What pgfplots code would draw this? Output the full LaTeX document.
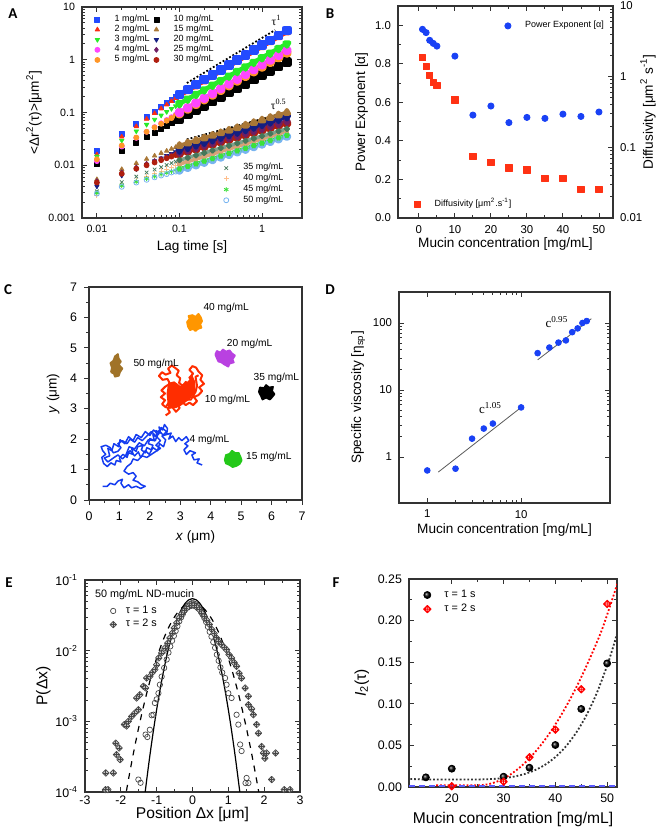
\documentclass[border=0pt]{standalone}
\usepackage{fontspec}
\setmainfont{Liberation Sans}
\newfontfamily\serif{Liberation Serif}
\newfontfamily\lblfont{Carlito}
\usepackage{pgfplots}
\usepackage{pgfplotstable}
\pgfplotsset{compat=1.18}

\definecolor{cA1}{RGB}{35,75,255}
\definecolor{cA2}{RGB}{250,45,20}
\definecolor{cA3}{RGB}{40,235,40}
\definecolor{cA4}{RGB}{255,70,255}
\definecolor{cA5}{RGB}{255,150,40}
\definecolor{cA10}{RGB}{0,0,0}
\definecolor{cA15}{RGB}{170,120,55}
\definecolor{cA20}{RGB}{20,30,130}
\definecolor{cA25}{RGB}{110,30,100}
\definecolor{cA30}{RGB}{175,30,15}
\definecolor{cA35}{RGB}{70,120,90}
\definecolor{cA40}{RGB}{255,190,140}
\definecolor{cA45}{RGB}{60,225,60}
\definecolor{cA50}{RGB}{120,180,240}
\definecolor{pblue}{RGB}{25,65,245}
\definecolor{pred}{RGB}{255,50,20}
\definecolor{tOrange}{RGB}{255,150,0}
\definecolor{tPurple}{RGB}{185,65,225}
\definecolor{tBrown}{RGB}{160,115,40}
\definecolor{tRed}{RGB}{255,45,0}
\definecolor{tBlue}{RGB}{20,60,240}
\definecolor{tGreen}{RGB}{35,200,25}

\newcommand{\fG}{\fontsize{4.5}{5}\selectfont}
\newcommand{\fGb}{\fontsize{5.4}{6}\selectfont}
\newcommand{\fTa}{\fontsize{5.3}{6}\selectfont}
\newcommand{\fTb}{\fontsize{5.7}{7}\selectfont}
\newcommand{\fTc}{\fontsize{6.2}{7}\selectfont}
\newcommand{\fLa}{\fontsize{6.8}{8}\selectfont}
\newcommand{\fLb}{\fontsize{7.8}{9}\selectfont}

% crossed diamond marks for panels E and F
\pgfdeclareplotmark{cdiam}{%
  \pgfpathmoveto{\pgfqpoint{\pgfplotmarksize}{0pt}}%
  \pgfpathlineto{\pgfqpoint{0pt}{\pgfplotmarksize}}%
  \pgfpathlineto{\pgfqpoint{-\pgfplotmarksize}{0pt}}%
  \pgfpathlineto{\pgfqpoint{0pt}{-\pgfplotmarksize}}%
  \pgfpathclose
  \pgfusepathqfillstroke
  \pgfpathmoveto{\pgfqpoint{0.75\pgfplotmarksize}{0pt}}%
  \pgfpathlineto{\pgfqpoint{-0.75\pgfplotmarksize}{0pt}}%
  \pgfpathmoveto{\pgfqpoint{0pt}{0.75\pgfplotmarksize}}%
  \pgfpathlineto{\pgfqpoint{0pt}{-0.75\pgfplotmarksize}}%
  \pgfusepathqstroke
}
\pgfdeclareplotmark{rdiam}{%
  \pgfpathmoveto{\pgfqpoint{\pgfplotmarksize}{0pt}}%
  \pgfpathlineto{\pgfqpoint{0pt}{\pgfplotmarksize}}%
  \pgfpathlineto{\pgfqpoint{-\pgfplotmarksize}{0pt}}%
  \pgfpathlineto{\pgfqpoint{0pt}{-\pgfplotmarksize}}%
  \pgfpathclose
  \pgfpathcircle{\pgfpointorigin}{0.62\pgfplotmarksize}%
  \pgfpathmoveto{\pgfqpoint{\pgfplotmarksize}{0pt}}%
  \pgfpathlineto{\pgfqpoint{-\pgfplotmarksize}{0pt}}%
  \pgfpathmoveto{\pgfqpoint{0pt}{\pgfplotmarksize}}%
  \pgfpathlineto{\pgfqpoint{0pt}{-\pgfplotmarksize}}%
  \pgfusepathqstroke
}

\pgfplotsset{
  every axis/.append style={scale only axis, anchor=north west,
    /pgf/number format/assume math mode=true,
    tick align=inside, major tick length=2.4pt, minor tick length=1.4pt,
    axis line style={line width=0.55pt, black!80},
    every tick/.style={line width=0.45pt, black!80}},
  every axis plot/.append style={line join=round},
}
% legend image: one mark near the left edge, then a blank gap before the text
\newcommand{\lgimg}[1]{\pgfplotsset{legend image code/.code={%
      \draw[##1] plot coordinates {(0.1cm,0cm)};
      \pgfpathmoveto{\pgfqpoint{0cm}{0pt}}\pgfpathmoveto{\pgfqpoint{#1}{0pt}}\pgfusepath{}}}}

\begin{document}

\pgfplotstableread{
t    a1     a2     a3     a4     a5     a10    a15    a20    a25    a30    a35    a40    a45    a50
0.01 0.0186 0.0160 0.0148 0.0120 0.0130 0.0104 0.0054 0.0040 0.0050 0.0047 0.0032 0.0027 0.0030 0.0029
0.02 0.0391 0.0347 0.0295 0.0227 0.0237 0.0189 0.0084 0.0064 0.0073 0.0069 0.0048 0.0041 0.0041 0.0039
0.03 0.0605 0.0546 0.0442 0.0330 0.0336 0.0269 0.0109 0.0085 0.0091 0.0086 0.0061 0.0052 0.0049 0.0047
0.04 0.0823 0.0753 0.0590 0.0430 0.0431 0.0344 0.0131 0.0103 0.0106 0.0100 0.0073 0.0061 0.0056 0.0053
0.05 0.1046 0.0967 0.0737 0.0528 0.0522 0.0418 0.0151 0.0120 0.0120 0.0113 0.0083 0.0070 0.0062 0.0059
0.06 0.1272 0.1186 0.0883 0.0625 0.0611 0.0489 0.0170 0.0136 0.0133 0.0125 0.0092 0.0078 0.0068 0.0064
0.07 0.1500 0.1408 0.1030 0.0720 0.0698 0.0558 0.0187 0.0151 0.0144 0.0136 0.0101 0.0085 0.0072 0.0068
0.08 0.1730 0.1635 0.1177 0.0814 0.0783 0.0627 0.0204 0.0165 0.0155 0.0146 0.0110 0.0092 0.0077 0.0073
0.09 0.1966 0.1865 0.1322 0.0907 0.0867 0.0694 0.0220 0.0179 0.0165 0.0156 0.0117 0.0099 0.0081 0.0076
0.10 0.2200 0.2100 0.1470 0.1000 0.0950 0.0760 0.0235 0.0192 0.0175 0.0165 0.0125 0.0105 0.0085 0.0080
}\Aearly

\pgfplotstableread{
t      a1     a2     a3     a4     a5     a10    a15     a20     a25     a30     a35     a40     a45     a50
0.1    0.220  0.210  0.147  0.100  0.095  0.076  0.0235  0.0192  0.0175  0.0165  0.0125  0.0105  0.0085  0.0080
0.1259 0.2727 0.260  0.1796 0.1231 0.1165 0.0919 0.02627 0.02147 0.01942 0.01827 0.01388 0.01172 0.00952 0.00896
0.1585 0.338  0.322  0.2196 0.1516 0.1428 0.1111 0.02937 0.0240  0.02156 0.02022 0.01542 0.01309 0.01066 0.01004
0.1995 0.419  0.399  0.2684 0.1867 0.1752 0.1343 0.03282 0.02684 0.02392 0.02239 0.01713 0.01461 0.01193 0.01124
0.2512 0.5195 0.494  0.3281 0.2299 0.2149 0.1624 0.03668 0.03001 0.02655 0.02479 0.01903 0.01632 0.01336 0.0126
0.3162 0.644  0.612  0.4009 0.2831 0.2634 0.1965 0.04101 0.03355 0.02947 0.02744 0.02113 0.01821 0.01496 0.0141
0.3981 0.798  0.758  0.490  0.3486 0.3231 0.2376 0.04583 0.03752 0.03272 0.03039 0.02347 0.02033 0.01675 0.0158
0.5012 0.990  0.939  0.5988 0.4293 0.3962 0.2873 0.05124 0.04195 0.03632 0.03364 0.02607 0.0227  0.01875 0.0177
0.631  1.227  1.164  0.732  0.5286 0.4858 0.3474 0.05727 0.04688 0.04031 0.03724 0.02896 0.02533 0.0210  0.01982
0.7943 1.521  1.441  0.8946 0.651  0.5958 0.4201 0.06401 0.05242 0.04474 0.04123 0.03217 0.02829 0.02351 0.0222
1.0    1.886  1.785  1.093  0.8017 0.7307 0.508  0.07155 0.05861 0.04966 0.04565 0.03572 0.03158 0.02633 0.02488
1.259  2.337  2.212  1.336  0.9872 0.896  0.6143 0.07996 0.06553 0.05511 0.05054 0.03968 0.03526 0.02948 0.02786
1.585  2.897  2.740  1.633  1.216  1.099  0.7428 0.08937 0.07325 0.06117 0.05595 0.04407 0.03937 0.03301 0.0312
2.0    3.60   3.40   2.00   1.50   1.35   0.90   0.100   0.082   0.068   0.062   0.049   0.044   0.037   0.035
}\Alate

\begin{tikzpicture}
\useasboundingbox (0,0) rectangle (330pt,-416pt);

% ---------------- A: MSD curves ----------------
\begin{axis}[at={(41pt,-3.5pt)}, width=110pt, height=105.5pt,
  xmode=log, ymode=log, xmin=0.0066, xmax=3.05, ymin=0.001, ymax=10,
  xtick={0.01,0.1,1}, xticklabels={0.01,0.1,1},
  ytick={0.001,0.01,0.1,1,10}, yticklabels={0.001,0.01,0.1,1,10},
  tick label style={font=\fTa}, label style={font=\fLa}, mark size=1.25pt,
  xlabel={Lag time [s]}, xlabel style={yshift=3pt},
  ylabel={<Δr\textsuperscript{2}(τ)>[μm\textsuperscript{2}]}, ylabel style={yshift=-3.5pt},
  legend style={draw=none, fill=none, font=\fG, at={(0.015,0.99)}, anchor=north west,
    row sep=-0.9pt, nodes={inner sep=0.6pt}},
  legend columns=2]
\lgimg{0.38cm}
\addplot[only marks, mark=square*, cA1] table[x=t,y=a1]{\Aearly};
\addlegendentry{1 mg/mL}
\addplot[only marks, mark=square*, cA10] table[x=t,y=a10]{\Aearly};
\addlegendentry{10 mg/mL}
\addplot[only marks, mark=triangle*, cA2] table[x=t,y=a2]{\Aearly};
\addlegendentry{2 mg/mL}
\addplot[only marks, mark=triangle*, cA15] table[x=t,y=a15]{\Aearly};
\addlegendentry{15 mg/mL}
\addplot[only marks, mark=triangle*, mark options={rotate=180}, cA3] table[x=t,y=a3]{\Aearly};
\addlegendentry{3 mg/mL}
\addplot[only marks, mark=triangle*, mark options={rotate=180}, cA20] table[x=t,y=a20]{\Aearly};
\addlegendentry{20 mg/mL}
\addplot[only marks, mark=*, cA4] table[x=t,y=a4]{\Aearly};
\addlegendentry{4 mg/mL}
\addplot[only marks, mark=diamond*, cA25] table[x=t,y=a25]{\Aearly};
\addlegendentry{25 mg/mL}
\addplot[only marks, mark=*, cA5] table[x=t,y=a5]{\Aearly};
\addlegendentry{5 mg/mL}
\addplot[only marks, mark=*, cA30] table[x=t,y=a30]{\Aearly};
\addlegendentry{30 mg/mL}
% dense part drawn as thick bands
\addplot[forget plot, cA30, line width=2pt, mark=*] table[x=t,y=a30]{\Alate};
\addplot[forget plot, cA25, line width=2pt, mark=diamond*] table[x=t,y=a25]{\Alate};
\addplot[forget plot, cA20, line width=2pt, mark=triangle*, mark options={rotate=180}] table[x=t,y=a20]{\Alate};
\addplot[forget plot, cA15, line width=2pt, mark=triangle*] table[x=t,y=a15]{\Alate};
\addplot[forget plot, cA10, line width=2.3pt, mark=square*] table[x=t,y=a10]{\Alate};
\addplot[forget plot, cA5, line width=2.3pt, mark=*] table[x=t,y=a5]{\Alate};
\addplot[forget plot, cA4, line width=2.3pt, mark=*] table[x=t,y=a4]{\Alate};
\addplot[forget plot, cA3, line width=2.3pt, mark=triangle*, mark options={rotate=180}] table[x=t,y=a3]{\Alate};
\addplot[forget plot, cA2, line width=2.3pt, mark=triangle*] table[x=t,y=a2]{\Alate};
\addplot[forget plot, cA1, line width=2.3pt, mark=square*] table[x=t,y=a1]{\Alate};
% guide lines
\addplot[forget plot, black, densely dotted, line width=0.9pt] coordinates {(0.123,0.362) (1.44,3.66)};
\addplot[forget plot, black, densely dotted, line width=0.9pt] coordinates {(0.123,0.031) (1.52,0.0897)};
\node[font=\serif\fontsize{5.8}{6}\selectfont] at (axis cs:1.5,5.6) {τ\textsuperscript{1}};
\node[font=\serif\fontsize{5.8}{6}\selectfont] at (axis cs:1.6,0.14) {τ\textsuperscript{0.5}};
\end{axis}
\begin{axis}[at={(41pt,-3.5pt)}, width=110pt, height=105.5pt,
  xmode=log, ymode=log, xmin=0.0066, xmax=3.05, ymin=0.001, ymax=10,
  hide axis, mark size=1.25pt,
  legend style={draw=none, fill=none, font=\fG, at={(0.95,0.035)}, anchor=south east,
    row sep=-0.6pt, nodes={inner sep=0.6pt}}]
\lgimg{0.38cm}
\addplot[only marks, mark=x, cA35] table[x=t,y=a35]{\Aearly};
\addlegendentry{35 mg/mL}
\addplot[only marks, mark=+, cA40] table[x=t,y=a40]{\Aearly};
\addlegendentry{40 mg/mL}
\addplot[only marks, mark=asterisk, cA45] table[x=t,y=a45]{\Aearly};
\addlegendentry{45 mg/mL}
\addplot[only marks, mark=o, cA50] table[x=t,y=a50]{\Aearly};
\addlegendentry{50 mg/mL}
\addplot[forget plot, cA50, line width=1.8pt, mark=o] table[x=t,y=a50]{\Alate};
\addplot[forget plot, cA40!85!black, line width=1.8pt, mark=+] table[x=t,y=a40]{\Alate};
\addplot[forget plot, cA35!70, line width=1.8pt, mark=x, mark options={cA35}] table[x=t,y=a35]{\Alate};
\addplot[forget plot, cA45, line width=1.8pt, mark=asterisk] table[x=t,y=a45]{\Alate};
\end{axis}

% ---------------- B: exponent and diffusivity ----------------
\begin{axis}[at={(199pt,-3pt)}, width=107.5pt, height=106pt,
  xmin=-5.8, xmax=53.9, ymin=0, ymax=1.1,
  xtick={0,10,20,30,40,50}, minor x tick num=1,
  ytick={0,0.2,0.4,0.6,0.8,1.0}, minor y tick num=1, ytick pos=left,
  yticklabel style={/pgf/number format/.cd, fixed, fixed zerofill, precision=1},
  tick label style={font=\fTb}, label style={font=\fLa},
  xlabel={Mucin concentration [mg/mL]}, xlabel style={yshift=4.5pt},
  ylabel={Power Exponent [α]}, ylabel style={yshift=-3.3pt},
  legend style={draw=none, fill=none, font=\fG, at={(0.455,0.955)}, anchor=north west,
    nodes={inner sep=0.6pt}}]
\lgimg{0.38cm}
\addplot[only marks, mark=*, pblue, mark size=1.55pt] coordinates {
(1,0.979)(2,0.962)(3,0.922)(4,0.906)(5,0.892)(10,0.840)(15,0.534)(20,0.581)
(25,0.495)(30,0.522)(35,0.517)(40,0.539)(45,0.527)(50,0.550)};
\addlegendentry{Power Exponent [α]}
\end{axis}
\begin{axis}[at={(199pt,-3pt)}, width=107.5pt, height=106pt,
  xmin=-5.8, xmax=53.9, ymode=log, ymin=0.01, ymax=10,
  axis y line*=right, axis x line=none,
  ytick={0.01,0.1,1,10}, yticklabels={0.01,0.1,1,10},
  tick label style={font=\fTb}, label style={font=\fLa},
  ylabel={Diffusivity [μm\textsuperscript{2} s\textsuperscript{-1}]},
  ylabel style={at={(axis description cs:1.163,0.5)}, anchor=center},
  legend style={draw=none, fill=none, font=\fG, at={(0.035,0.012)}, anchor=south west,
    nodes={inner sep=0.6pt}}]
\lgimg{0.38cm}
\addplot[only marks, mark=square*, pred, mark size=1.55pt] coordinates {
(1,1.86)(2,1.39)(3,1.04)(4,0.82)(5,0.75)(10,0.47)(15,0.074)(20,0.061)
(25,0.051)(30,0.048)(35,0.036)(40,0.036)(45,0.0255)(50,0.0255)};
\addlegendentry{Diffusivity [μm\textsuperscript{2}.s\textsuperscript{-1}]}
\end{axis}

% ---------------- C: trajectories ----------------
\begin{axis}[at={(44.5pt,-143.5pt)}, width=106.5pt, height=106.5pt,
  xmin=0, xmax=7, ymin=0, ymax=7, xtick={0,...,7}, ytick={0,...,7},
  minor tick num=1, xtick pos=left, ytick pos=left, tick align=outside,
  tick label style={font=\fTc}, label style={font=\fLa},
  xlabel={\textit{x} (μm)}, xlabel style={yshift=2pt},
  ylabel={\textit{y} (μm)}, ylabel style={yshift=-1.5pt}]
\addplot[tBlue, line width=0.75pt] coordinates {
(3.72,1.15)(3.55,1.22)(3.62,1.35)(3.45,1.32)(3.38,1.48)(3.5,1.55)(3.32,1.62)(3.2,1.5)
(3.12,1.65)(3.25,1.78)(3.15,1.85)(3.28,1.95)(3.2,2.08)(3.05,1.95)(2.95,2.05)(2.85,1.92)
(2.75,2.1)(2.62,2.0)(2.7,2.2)(2.55,2.15)(2.58,2.35)(2.48,2.48)(2.42,2.3)(2.3,2.4)
(2.35,2.2)(2.2,2.28)(2.25,2.05)(2.1,2.15)(2.15,1.95)(2.0,2.02)(1.95,1.85)(2.1,1.8)
(2.05,1.65)(1.9,1.72)(1.85,1.55)(1.72,1.65)(1.78,1.8)(1.6,1.75)(1.55,1.6)(1.4,1.7)
(1.45,1.5)(1.3,1.55)(1.25,1.4)(1.12,1.5)(1.0,1.38)(1.05,1.25)(0.9,1.3)(0.85,1.15)
(0.72,1.22)(0.6,1.1)(0.48,1.2)(0.42,1.4)(0.55,1.5)(0.45,1.62)(0.4,1.75)(0.55,1.8)
(0.7,1.72)(0.8,1.55)(0.95,1.6)(1.05,1.72)(0.95,1.85)(1.1,1.95)(1.25,1.85)(1.35,2.0)
(1.5,1.9)(1.6,2.05)(1.75,1.95)(1.9,2.1)(2.05,2.25)(2.2,2.1)(2.35,1.95)(2.2,1.8)
(2.35,1.7)(2.2,1.6)(2.05,1.5)(1.9,1.4)(1.75,1.45)(1.6,1.3)(1.45,1.35)(1.38,1.2)
(1.25,1.1)(1.15,0.95)(1.3,0.85)(1.45,0.9)(1.55,0.78)(1.45,0.65)(1.6,0.6)(1.72,0.5)
(1.85,0.45)(1.7,0.38)(1.55,0.45)(1.4,0.4)(1.3,0.5)(1.15,0.4)(1.05,0.55)(1.1,0.68)
(0.95,0.62)(0.85,0.5)(0.7,0.55)(0.6,0.45)(0.45,0.45)};
\addplot[tBlue, line width=0.75pt] coordinates {
(1.2,1.45)(1.35,1.62)(1.5,1.45)(1.62,1.58)(1.7,1.4)(1.85,1.62)(1.98,1.5)(2.1,1.72)
(2.25,1.62)(2.32,1.85)(2.45,1.75)(2.52,1.98)(2.4,2.1)(2.55,2.25)(2.38,2.38)(2.28,2.15)
(2.12,2.3)(2.0,2.12)(1.85,2.25)(1.72,2.05)(1.55,2.15)(1.45,1.95)(1.3,2.08)(1.18,1.85)
(1.02,1.98)(0.98,1.75)(0.82,1.85)(0.75,1.62)(0.62,1.7)(0.68,1.45)(0.5,1.38)(0.62,1.25)
(0.8,1.38)(0.95,1.48)(1.1,1.35)(1.2,1.45)(1.32,1.75)(1.5,1.68)(1.65,1.88)(1.82,1.78)
(1.95,1.98)(2.18,1.95)(2.3,2.28)(2.45,2.12)(2.62,2.18)};
\addplot[tRed, fill=tRed, draw=none] coordinates {
(2.6,3.0)(2.95,3.05)(3.3,3.3)(3.5,3.55)(3.5,3.85)(3.4,4.1)(3.25,3.9)(3.0,3.75)
(2.8,3.9)(2.6,3.85)(2.55,3.5)(2.6,3.0)};
\addplot[tRed, line width=1pt] coordinates {
(2.52,2.78)(2.66,2.88)(2.58,3.02)(2.74,3.05)(2.86,2.9)(2.98,3.02)(2.9,3.15)(3.06,3.22)
(3.18,3.12)(3.3,3.2)(3.42,3.12)(3.55,3.25)(3.45,3.38)(3.6,3.45)(3.72,3.58)(3.62,3.7)
(3.78,3.82)(3.66,3.95)(3.72,4.1)(3.6,4.22)(3.52,4.35)(3.4,4.4)(3.3,4.28)(3.42,4.15)
(3.3,4.02)(3.45,3.9)(3.3,3.78)(3.18,3.88)(3.08,3.75)(2.96,3.85)(3.0,4.0)(2.88,4.1)
(2.95,4.25)(2.82,4.35)(2.72,4.42)(2.6,4.32)(2.68,4.18)(2.52,4.12)(2.4,4.2)(2.3,4.08)
(2.42,3.95)(2.58,3.98)(2.66,3.82)(2.5,3.72)(2.38,3.6)(2.5,3.5)(2.36,3.38)(2.5,3.28)
(2.4,3.15)(2.52,3.05)(2.62,3.2)(2.76,3.3)(2.64,3.42)(2.8,3.55)(2.68,3.65)(2.85,3.7)
(2.98,3.58)(2.9,3.42)(3.05,3.38)(3.15,3.52)(3.25,3.4)(3.38,3.55)(3.25,3.65)(3.12,3.62)
(3.02,3.48)(2.88,3.28)(2.75,3.18)(2.85,3.05)(3.0,3.28)(3.2,3.3)(3.35,3.3)(3.5,3.55)
(3.55,3.75)(3.5,4.05)(3.6,4.1)};
\addplot[tOrange, fill=tOrange, line width=0.8pt] coordinates {
(3.25,5.7)(3.22,5.85)(3.3,5.95)(3.27,6.05)(3.4,6.08)(3.5,6.02)(3.6,6.12)(3.68,6.0)
(3.72,5.88)(3.66,5.78)(3.7,5.66)(3.58,5.62)(3.5,5.55)(3.42,5.62)(3.32,5.58)(3.25,5.7)};
\addplot[tPurple, fill=tPurple, line width=0.8pt] coordinates {
(4.15,4.78)(4.2,4.9)(4.32,4.85)(4.4,4.95)(4.5,4.88)(4.62,4.92)(4.7,4.82)(4.8,4.75)
(4.72,4.62)(4.76,4.52)(4.62,4.48)(4.58,4.38)(4.45,4.45)(4.35,4.52)(4.25,4.55)(4.2,4.66)(4.15,4.78)};
\addplot[tBrown, fill=tBrown, line width=0.8pt] coordinates {
(0.72,4.2)(0.75,4.35)(0.7,4.5)(0.8,4.58)(0.85,4.72)(0.95,4.8)(0.98,4.65)(1.05,4.55)
(0.98,4.45)(1.1,4.32)(1.02,4.2)(0.98,4.08)(0.85,4.05)(0.82,4.15)(0.72,4.2)};
\addplot[black, fill=black, line width=0.8pt] coordinates {
(5.58,3.55)(5.62,3.7)(5.75,3.68)(5.82,3.78)(5.92,3.7)(6.05,3.72)(6.02,3.58)(6.1,3.48)
(6.02,3.38)(5.95,3.3)(5.82,3.36)(5.7,3.3)(5.65,3.42)(5.58,3.55)};
\addplot[tGreen, fill=tGreen, line width=0.8pt] coordinates {
(4.46,1.32)(4.5,1.48)(4.62,1.52)(4.7,1.62)(4.8,1.55)(4.92,1.55)(4.98,1.42)(5.02,1.3)
(4.95,1.18)(4.85,1.12)(4.72,1.08)(4.62,1.15)(4.5,1.2)(4.46,1.32)};
\node[font=\fontsize{5.1}{6}\selectfont] at (axis cs:4.51,6.32) {40 mg/mL};
\node[font=\fontsize{5.1}{6}\selectfont] at (axis cs:5.28,5.12) {20 mg/mL};
\node[font=\fontsize{5.1}{6}\selectfont] at (axis cs:2.21,4.48) {50 mg/mL};
\node[font=\fontsize{5.1}{6}\selectfont] at (axis cs:6.16,4.02) {35 mg/mL};
\node[font=\fontsize{5.1}{6}\selectfont] at (axis cs:4.55,3.30) {10 mg/mL};
\node[font=\fontsize{5.1}{6}\selectfont] at (axis cs:3.96,1.98) {4 mg/mL};
\node[font=\fontsize{5.1}{6}\selectfont] at (axis cs:5.91,1.41) {15 mg/mL};
\end{axis}

% ---------------- D: specific viscosity ----------------
\begin{axis}[at={(199.5pt,-146pt)}, width=105.5pt, height=105.5pt,
  xmode=log, ymode=log, xmin=0.5, xmax=88.5, ymin=0.206, ymax=290,
  xtick={1,10}, xticklabels={1,10}, ytick={1,10,100}, yticklabels={1,10,100},
  tick label style={font=\fTb}, label style={font=\fLa},
  xlabel={Mucin concentration [mg/mL]}, xlabel style={yshift=4pt},
  ylabel={Specific viscosity [η\textsubscript{sp}]}, ylabel style={yshift=-3pt}]
\addplot[gray!70!black, line width=0.4pt] coordinates {(1.31,0.596)(9.68,5.31)};
\addplot[gray!70!black, line width=0.4pt] coordinates {(15,28.2)(56,116)};
\addplot[only marks, mark=*, pblue, mark size=1.45pt] coordinates {
(1,0.63)(2,0.67)(3,1.88)(4,2.66)(5,3.16)(10,5.5)(15,35.5)(20,43)(25,51)(30,55)
(35,73)(40,83)(45,100)(50,107)};
\node[font=\serif\fontsize{6.5}{7}\selectfont] at (axis cs:4.72,5.4) {c\textsuperscript{1.05}};
\node[font=\serif\fontsize{6.5}{7}\selectfont] at (axis cs:24.1,104) {c\textsuperscript{0.95}};
\end{axis}

% ---------------- E: displacement distributions ----------------
\begin{axis}[at={(42.5pt,-290pt)}, width=107.5pt, height=106pt,
  xmin=-3, xmax=3, ymode=log, ymin=1e-4, ymax=0.1,
  xtick={-3,...,3}, minor x tick num=1,
  ytick={1e-4,1e-3,1e-2,1e-1},
  yticklabels={10\textsuperscript{-4},10\textsuperscript{-3},10\textsuperscript{-2},10\textsuperscript{-1}},
  tick label style={font=\fTc}, label style={font=\fLb},
  xticklabel style={yshift=1.5pt},
  xlabel={Position Δx [μm]}, xlabel style={yshift=5.5pt},
  ylabel={P(Δx)}, ylabel style={yshift=-4.5pt},
  legend style={draw=none, fill=none, font=\fGb, at={(0.075,0.905)}, anchor=north west,
    row sep=0.4pt, nodes={inner sep=0.6pt}}]
\lgimg{0.3cm}
\addplot[only marks, mark=o, gray!55!black, mark size=1.35pt, mark options={line width=0.35pt}] coordinates {
(-1.51,1.50e-4)(-1.45,1.35e-4)(-1.31,6.5e-4)(-1.26,6.0e-4)(-1.19,7.6e-4)(-1.14,1.22e-3)
(-1.09,1.24e-3)(-1.05,1.82e-3)(-1.00,2.05e-3)(-0.95,2.5e-3)(-0.91,3.3e-3)(-0.86,4.3e-3)
(-0.79,5.7e-3)(-0.72,7.5e-3)(-0.67,9.4e-3)(-0.62,0.0115)(-0.57,0.0138)(-0.52,0.0162)
(-0.47,0.019)(-0.42,0.0222)(-0.37,0.026)(-0.32,0.0295)(-0.27,0.033)(-0.22,0.037)
(-0.17,0.0405)(-0.12,0.0435)(-0.07,0.0455)(-0.02,0.047)(0.03,0.0468)(0.08,0.0455)
(0.13,0.043)(0.18,0.040)(0.23,0.0365)(0.28,0.0325)(0.33,0.029)(0.38,0.0255)(0.43,0.0218)
(0.48,0.0185)(0.53,0.0158)(0.58,0.0132)(0.63,0.011)(0.68,0.0088)(0.73,0.0072)(0.78,0.0058)
(0.83,0.0049)(0.91,4.1e-3)(0.95,3.3e-3)(1.00,2.5e-3)(1.09,2.14e-3)(1.23,1.24e-3)
(1.28,9e-4)(1.33,4.7e-4)(1.37,3.8e-4)(1.48,1.34e-4)(1.51,1.58e-4)(1.56,1.34e-4)};
\addlegendentry{τ = 1 s}
\addplot[only marks, mark=cdiam, mark size=1.65pt,
  mark options={fill=gray!45, draw=gray!55!black, line width=0.35pt}] coordinates {
(-2.43,1.08e-4)(-2.36,1.08e-4)(-2.42,1.86e-4)(-2.21,1.86e-4)(-2.12,3.37e-4)(-2.14,4.9e-4)
(-2.05,4.2e-4)(-2.02,2.87e-4)(-1.90,9.0e-4)(-1.84,8.6e-4)(-1.79,1.0e-3)(-1.70,1.17e-3)
(-1.61,1.31e-3)(-1.51,1.46e-3)(-1.56,2.14e-3)(-1.47,2.38e-3)(-1.37,3.13e-3)(-1.31,2.97e-3)
(-1.28,4.1e-3)(-1.19,4.3e-3)(-1.12,4.9e-3)(-1.05,5.4e-3)(-1.00,6.3e-3)(-0.94,7.9e-3)
(-0.86,9.3e-3)(-0.77,0.0109)(-0.69,0.0128)(-0.63,0.0151)(-0.56,0.0178)(-0.51,0.0209)
(-0.44,0.0247)(-0.38,0.029)(-0.30,0.033)(-0.23,0.0368)(-0.16,0.040)(-0.10,0.042)
(-0.02,0.0438)(0.05,0.0436)(0.12,0.041)(0.19,0.038)(0.26,0.034)(0.33,0.0305)(0.40,0.027)
(0.47,0.0235)(0.54,0.020)(0.60,0.0175)(0.67,0.0152)(0.72,0.0135)(0.81,0.0122)(0.88,0.0112)
(0.95,0.0103)(1.02,0.0088)(1.09,0.0079)(1.16,0.0068)(1.23,0.0060)(1.30,0.0048)(1.37,0.0041)
(1.47,0.00296)(1.56,0.00226)(1.56,0.00172)(1.65,0.0015)(1.70,0.00124)(1.79,9e-4)
(1.84,6.8e-4)(1.93,4.4e-4)(1.98,3.56e-4)(2.02,3.0e-4)(2.07,3.56e-4)(2.32,3.56e-4)
(2.21,1.5e-4)(2.56,1.08e-4)(2.72,1.08e-4)};
\addlegendentry{τ = 2 s}
\addplot[forget plot, black, line width=0.6pt, smooth] coordinates {
(-1.33,9.1e-5)(-1.3,1.21e-4)(-1.2,2.99e-4)(-1.1,6.86e-4)(-1.0,1.466e-3)(-0.9,2.91e-3)
(-0.8,5.38e-3)(-0.7,9.26e-3)(-0.6,0.01482)(-0.5,0.02206)(-0.4,0.0305)(-0.3,0.0393)
(-0.2,0.0471)(-0.1,0.0525)(0,0.0545)(0.1,0.0525)(0.2,0.0471)(0.3,0.0393)(0.4,0.0305)
(0.5,0.02206)(0.6,0.01482)(0.7,9.26e-3)(0.8,5.38e-3)(0.9,2.91e-3)(1.0,1.466e-3)
(1.1,6.86e-4)(1.2,2.99e-4)(1.3,1.21e-4)(1.33,9.1e-5)};
\addplot[forget plot, black, line width=0.6pt, dashed, smooth] coordinates {
(-1.9,7.08e-5)(-1.8,1.38e-4)(-1.7,2.59e-4)(-1.6,4.70e-4)(-1.5,8.21e-4)(-1.4,1.384e-3)
(-1.3,2.25e-3)(-1.2,3.53e-3)(-1.1,5.35e-3)(-1.0,7.8e-3)(-0.9,0.011)(-0.8,0.01493)
(-0.7,0.01957)(-0.6,0.02472)(-0.5,0.03016)(-0.4,0.03546)(-0.3,0.04024)(-0.2,0.04403)
(-0.1,0.04646)(0,0.0473)(0.1,0.04646)(0.2,0.04403)(0.3,0.04024)(0.4,0.03546)(0.5,0.03016)
(0.6,0.02472)(0.7,0.01957)(0.8,0.01493)(0.9,0.011)(1.0,7.8e-3)(1.1,5.35e-3)(1.2,3.53e-3)
(1.3,2.25e-3)(1.4,1.384e-3)(1.5,8.21e-4)(1.6,4.70e-4)(1.7,2.59e-4)(1.8,1.38e-4)(1.9,7.08e-5)};
\node[anchor=west, font=\fGb, inner sep=0pt] at (axis description cs:0.045,0.93) {50 mg/mL ND-mucin};
\end{axis}

% ---------------- F: non-Gaussian parameter ----------------
\begin{axis}[at={(204.5pt,-289.5pt)}, width=104pt, height=104pt,
  xmin=11.74, xmax=51.9, ymin=0, ymax=0.25,
  xtick={20,30,40,50}, minor x tick num=1,
  ytick={0,0.05,0.1,0.15,0.2,0.25}, minor y tick num=1,
  yticklabel style={/pgf/number format/.cd, fixed, fixed zerofill, precision=2},
  tick label style={font=\fTc}, label style={font=\fLb},
  xlabel={Mucin concentration [mg/mL]}, xlabel style={yshift=2pt},
  ylabel={\textit{I}\textsubscript{2}(τ)}, ylabel style={yshift=-2.5pt},
  legend style={draw=none, fill=none, font=\fGb, at={(0.03,0.975)}, anchor=north west,
    row sep=0.6pt, nodes={inner sep=0.6pt}}]
\lgimg{0.38cm}
\addplot[forget plot, black!80, densely dotted, line width=0.9pt, smooth] coordinates {
(12,0.0097)(14,0.0092)(16,0.00904)(18,0.009)(20,0.009)(22,0.009)(24,0.00904)(26,0.0092)
(28,0.0097)(30,0.0107)(32,0.0125)(34,0.0155)(36,0.0201)(38,0.0267)(40,0.036)(42,0.0486)
(44,0.0651)(46,0.0862)(48,0.1129)(50,0.1459)(51,0.1651)(52,0.1862)};
\addplot[forget plot, red, densely dotted, line width=0.9pt, smooth] coordinates {
(17,0.002)(19,0.002)(21,0.002)(23,0.002)(25,0.002)(27,0.0033)(29,0.0072)(31,0.0137)
(33,0.0228)(35,0.0345)(37,0.0488)(39,0.0657)(41,0.0852)(43,0.1073)(45,0.132)(47,0.1593)
(49,0.1892)(51,0.2257)(52,0.2450)};
\addplot[forget plot, blue!65, line width=1.1pt, dash pattern=on 3pt off 2pt] coordinates {(11.74,0.0012)(51.9,0.0012)};
\addplot[only marks, mark=ball, ball color=black, mark size=1.75pt] coordinates {
(15,0.0116)(20,0.022)(30,0.0124)(35,0.0232)(40,0.0505)(45,0.0938)(50,0.1486)};
\addlegendentry{τ = 1 s}
\addplot[only marks, mark=rdiam, red, mark size=1.9pt, mark options={line width=0.4pt}] coordinates {
(20,0.001)(30,0.0064)(35,0.0357)(40,0.0689)(45,0.1174)(50,0.22)};
\addlegendentry{τ = 2 s}
\end{axis}

% panel letters
\node[font=\lblfont\bfseries\fontsize{7.5}{8}\selectfont] at (6.5pt,-7pt) {A};
\node[font=\lblfont\bfseries\fontsize{7.5}{8}\selectfont] at (165pt,-7pt) {B};
\node[font=\lblfont\bfseries\fontsize{7.5}{8}\selectfont] at (4pt,-145pt) {C};
\node[font=\lblfont\bfseries\fontsize{7.5}{8}\selectfont] at (165pt,-145pt) {D};
\node[font=\lblfont\bfseries\fontsize{7.5}{8}\selectfont] at (4.5pt,-291.5pt) {E};
\node[font=\lblfont\bfseries\fontsize{7.5}{8}\selectfont] at (168pt,-291.5pt) {F};
\end{tikzpicture}
\end{document}
